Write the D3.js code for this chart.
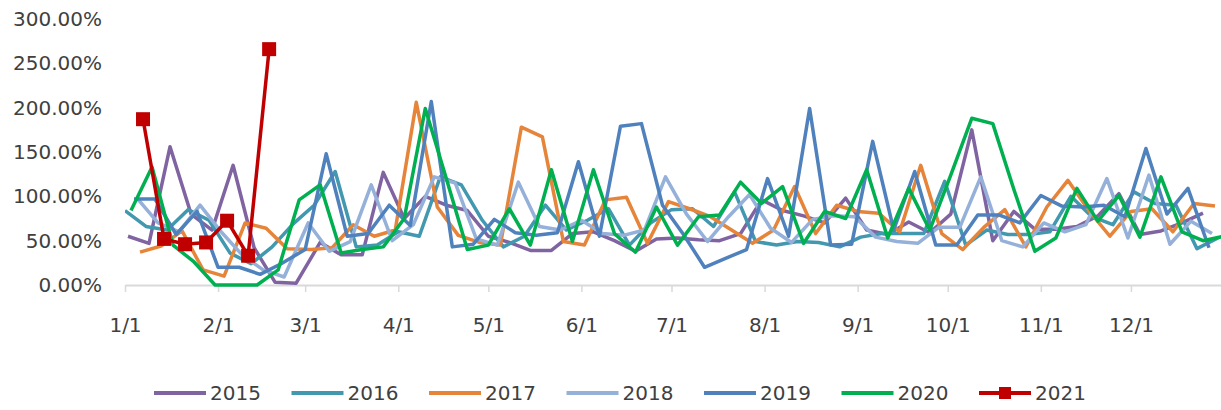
<!DOCTYPE html>
<html lang="en">
<head>
<meta charset="utf-8">
<title>Weekly ratio 2015-2021</title>
<script src="https://d3js.org/d3.v7.min.js"></script>
<style>
html,body{margin:0;padding:0;background:#fff}
#chart text{font-family:"DejaVu Sans",sans-serif;fill:#404040;font-size:20px}
</style>
</head>
<body>
<div id="chart"></div>
<script>
// one entry per year, weekly values in %
var years=["2015","2016","2017","2018","2019","2020","2021"];
var startDates=["2015-01-02","2016-01-01","2017-01-06","2018-01-05","2019-01-04","2020-01-03","2021-01-07"];
var v2015=[55,47,156,80,62,135,42,3,2,48,34,34,127,75,100,90,84,55,48,39,39,58,60,50,38,52,53,51,50,58,96,84,78,70,98,62,57,71,59,80,175,50,83,63,63,66,78,103,57,61,70,81];
var v2016=[84,66,62,85,73,36,24,43,69,90,128,43,45,60,55,122,113,73,43,55,90,62,73,86,45,70,85,86,66,105,49,45,49,48,43,54,58,58,58,117,45,62,57,57,60,100,77,68,105,92,90,41,53];
var v2017=[37,44,61,17,10,70,64,41,40,42,68,55,62,206,88,56,48,45,178,167,49,45,96,99,47,94,86,77,62,47,62,111,58,90,83,81,60,135,58,40,65,85,43,88,118,84,55,83,86,60,92,89];
var v2018=[98,70,60,90,60,34,17,9,70,38,49,113,50,68,122,115,52,45,116,66,62,73,58,56,62,122,80,49,77,102,64,48,74,78,77,54,49,47,65,65,122,50,43,70,60,68,120,53,124,46,72,58];
var v2019=[97,97,57,83,20,20,12,24,40,148,55,58,90,67,207,43,46,74,59,56,59,139,55,179,182,90,57,20,30,40,120,55,199,45,46,162,62,128,45,45,79,79,70,101,89,88,90,77,154,80,109,42];
var v2020=[84,133,45,26,0,0,0,17,96,113,36,40,43,75,199,120,40,45,86,45,130,49,130,58,37,88,45,77,79,116,92,111,47,83,75,130,53,109,62,124,188,182,108,38,53,109,72,101,54,122,60,50,55];
var v2021=[187,52,46,48,72.5,33,266];
var yTicks=[0,50,100,150,200,250,300];
var colors=["#8064a2","#4198af","#e6843a","#95b0d9","#4f81bd","#00b050","#c00000"];

var values=[v2015,v2016,v2017,v2018,v2019,v2020,v2021];
var W=1221,H=410;
var plot={left:125,right:1221,top:19,bottom:285};

var parseDay=d3.timeParse("%Y-%m-%d");
// every year is laid on the same Jan..Dec axis (2020, a leap year)
function toAxisDate(d,year){
    return new Date(2020+d.getFullYear()-year,d.getMonth(),d.getDate());
}
function buildSeries(i){
    var year=+years[i];
    var start=parseDay(startDates[i]);
    return values[i].map(function(v,k){
        return {date:toAxisDate(d3.timeDay.offset(start,7*k),year),value:v};
    });
}

var x=d3.scaleTime()
    .domain([new Date(2020,0,1),new Date(2020,11,31)])
    .range([plot.left,plot.right]);
var y=d3.scaleLinear().domain([0,300]).range([plot.bottom,plot.top]);

var svg=d3.select("#chart").append("svg")
    .attr("width",W)
    .attr("height",H);

// y labels, no axis line
svg.append("g").selectAll("text")
    .data(yTicks)
    .enter().append("text")
    .attr("x",102)
    .attr("y",function(d){return y(d)})
    .attr("dy","0.35em")
    .attr("text-anchor","end")
    .text(function(d){return d3.format(".2f")(d)+"%"});

var xAxis=d3.axisBottom(x)
    .tickValues(d3.timeMonth.range(new Date(2020,0,1),new Date(2021,0,1)))
    .tickFormat(d3.timeFormat("%-m/%-d"))
    .tickSize(7)
    .tickSizeOuter(0)
    .tickPadding(26);
var gx=svg.append("g")
    .attr("transform","translate(0,"+plot.bottom+")")
    .call(xAxis);
gx.select(".domain").attr("stroke","#d9d9d9").attr("stroke-width",2);
gx.selectAll(".tick line").attr("stroke","#d9d9d9").attr("stroke-width",1.5);
gx.attr("font-size",null).attr("font-family",null);

var valuePath=d3.line()
    .x(function(d){return x(d.date)})
    .y(function(d){return y(d.value)});

svg.append("clipPath").attr("id","clip")
    .append("rect")
    .attr("x",plot.left).attr("y",0)
    .attr("width",plot.right-plot.left).attr("height",plot.bottom+10);

var lines=svg.append("g").attr("clip-path","url(#clip)");
years.forEach(function(yr,i){
    var data=buildSeries(i);
    lines.append("path")
        .datum(data)
        .attr("fill","none")
        .attr("stroke",colors[i])
        .attr("stroke-width",3.5)
        .attr("stroke-linejoin","round")
        .attr("d",valuePath);
    if(yr==="2021"){
        lines.selectAll("rect.m"+yr)
            .data(data)
            .enter().append("rect")
            .attr("class","m"+yr)
            .attr("x",function(d){return x(d.date)-7})
            .attr("y",function(d){return y(d.value)-7})
            .attr("width",14)
            .attr("height",14)
            .attr("fill",colors[i]);
    }
});

// legend
var legend=svg.append("g");
years.forEach(function(yr,i){
    var lx=154+i*137.5, ly=393;
    var item=legend.append("g").attr("transform","translate("+lx+","+ly+")");
    item.append("line")
        .attr("x1",0).attr("x2",52)
        .attr("y1",0).attr("y2",0)
        .attr("stroke",colors[i])
        .attr("stroke-width",4);
    if(yr==="2021"){
        item.append("rect")
            .attr("x",20).attr("y",-6)
            .attr("width",12).attr("height",12)
            .attr("fill",colors[i]);
    }
    item.append("text")
        .attr("x",56)
        .attr("dy","0.35em")
        .text(yr);
});
</script>
</body>
</html>
